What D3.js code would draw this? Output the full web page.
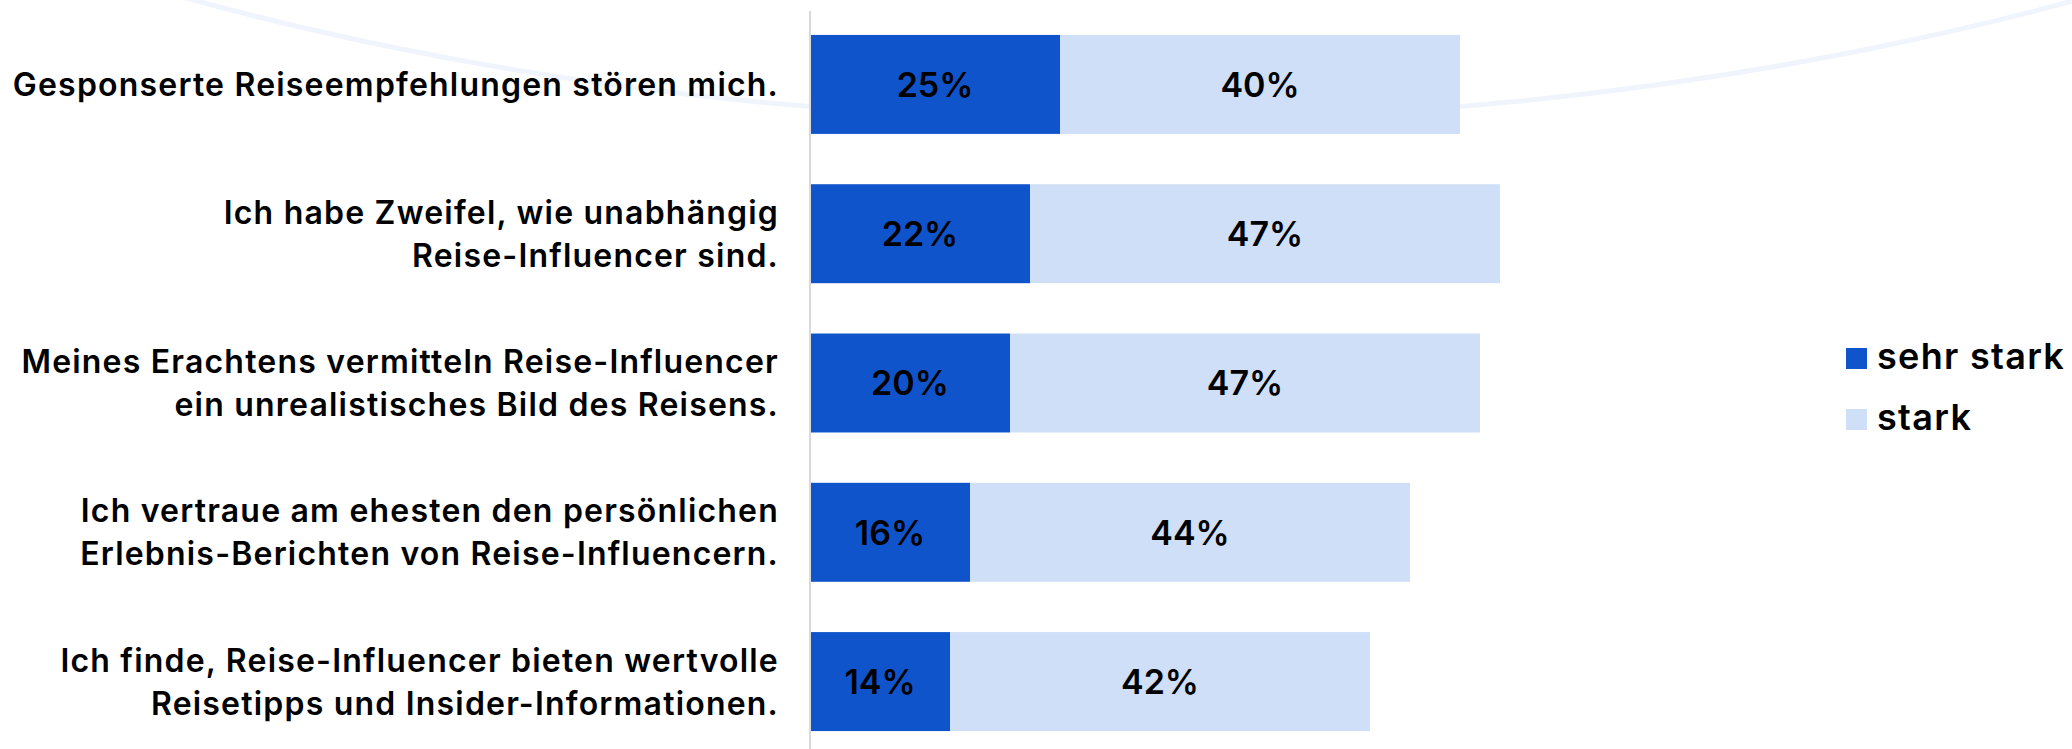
<!DOCTYPE html>
<html>
<head>
<meta charset="utf-8">
<script src="https://cdn.jsdelivr.net/npm/d3@7"></script>
<style>
    html, body { margin: 0; padding: 0; background: #fff; }
    svg { display: block; font-family: Inter, "Open Sans", sans-serif; }
</style>
</head>
<body>
<div id="chart"></div>
<script>
// Statements (one label line per entry)
const categories = [
    ["Gesponserte Reiseempfehlungen stören mich."],
    ["Ich habe Zweifel, wie unabhängig", "Reise-Influencer sind."],
    ["Meines Erachtens vermitteln Reise-Influencer", "ein unrealistisches Bild des Reisens."],
    ["Ich vertraue am ehesten den persönlichen", "Erlebnis-Berichten von Reise-Influencern."],
    ["Ich finde, Reise-Influencer bieten wertvolle", "Reisetipps und Insider-Informationen."]
];

const seriesNames = ["sehr stark", "stark"];
const sehrStark = [25, 22, 20, 16, 14];
const stark = [40, 47, 47, 44, 42];

const colors = ["#1054cc", "#cfdff8"];

const width = 2072;
const height = 749;

const svg = d3.select('#chart')
    .append('svg')
    .attr('width', width)
    .attr('height', height);

// faint background arc
svg.append('ellipse')
    .attr('cx', 1135)
    .attr('cy', -899)
    .attr('rx', 2000)
    .attr('ry', 1019)
    .attr('fill', 'none')
    .attr('stroke', '#f0f4fd')
    .attr('stroke-width', 5);

const rows = categories.map((c, i) => ({
    key: i,
    lines: c,
    "sehr stark": sehrStark[i],
    "stark": stark[i]
}));

const x = d3.scaleLinear()
    .domain([0, 100])
    .range([810, 1810]);

const y = d3.scaleBand()
    .domain(rows.map(d => d.key))
    .range([10, 756])
    .paddingInner(0.337)
    .paddingOuter(0.167);

const stacked = d3.stack().keys(seriesNames)(rows);

// bars
const layers = svg.selectAll('g.layer')
    .data(stacked)
    .join('g')
    .attr('class', 'layer')
    .attr('fill', (d, i) => colors[i]);

layers.selectAll('rect')
    .data(d => d)
    .join('rect')
    .attr('x', d => x(d[0]))
    .attr('y', d => y(d.data.key))
    .attr('width', d => x(d[1]) - x(d[0]))
    .attr('height', y.bandwidth());

// value labels
layers.selectAll('text')
    .data(d => d)
    .join('text')
    .attr('x', d => (x(d[0]) + x(d[1])) / 2)
    .attr('y', d => y(d.data.key) + y.bandwidth() / 2)
    .attr('dy', '0.36em')
    .attr('text-anchor', 'middle')
    .attr('fill', '#000')
    .attr('font-size', 34)
    .attr('font-weight', 600)
    .text(d => (d[1] - d[0]) + '%');

// vertical axis line
svg.append('line')
    .attr('x1', 810)
    .attr('x2', 810)
    .attr('y1', 11)
    .attr('y2', height)
    .attr('stroke', '#d9d9d9')
    .attr('stroke-width', 2);

// category labels
const lineGap = 43;
rows.forEach(r => {
    const cy = y(r.key) + y.bandwidth() / 2;
    const t = svg.append('text')
        .attr('text-anchor', 'end')
        .attr('fill', '#000')
        .attr('font-size', 32)
        .attr('font-weight', 600)
        .attr('letter-spacing', 1.2);
    r.lines.forEach((line, j) => {
        t.append('tspan')
            .attr('x', 779)
            .attr('y', cy + (j - (r.lines.length - 1) / 2) * lineGap)
            .attr('dy', '0.36em')
            .text(line);
    });
});

// legend
const legend = svg.append('g')
    .attr('transform', 'translate(1846, 348)');

const item = legend.selectAll('g')
    .data(seriesNames)
    .join('g')
    .attr('transform', (d, i) => `translate(0, ${i * 61})`);

item.append('rect')
    .attr('width', 21)
    .attr('height', 21)
    .attr('fill', (d, i) => colors[i]);

item.append('text')
    .attr('x', 31)
    .attr('y', 21)
    .attr('fill', '#000')
    .attr('font-size', 36)
    .attr('font-weight', 600)
    .attr('letter-spacing', 1.3)
    .text(d => d);
</script>
</body>
</html>
